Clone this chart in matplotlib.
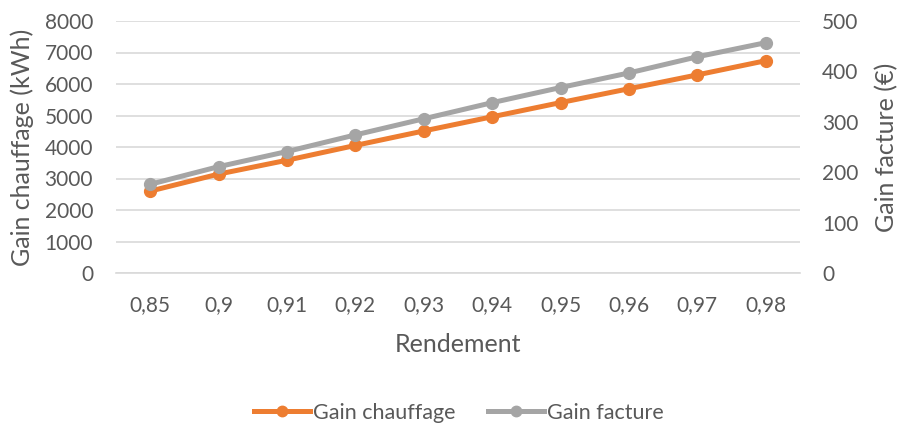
import matplotlib
matplotlib.use("Agg")
import matplotlib.pyplot as plt
from matplotlib.lines import Line2D

plt.rcParams['font.family'] = ['Lato', 'DejaVu Sans']

categories = ["0,85", "0,9", "0,91", "0,92", "0,93", "0,94", "0,95", "0,96", "0,97", "0,98"]
gain_chauffage = [2600, 3140, 3580, 4050, 4510, 4960, 5410, 5850, 6290, 6740]
gain_facture = [176, 211, 241, 274, 306, 338, 368, 397, 429, 457]

orange = "#ED7D31"
gray = "#A5A5A5"
txt = "#595959"
grid = "#D9D9D9"

W, H = 897, 425
fig = plt.figure(figsize=(W/100, H/100), dpi=100)
L, R, T, B = 116, 800, 21, 273
ax = fig.add_axes([L/W, 1 - B/H, (R-L)/W, (B-T)/H])
ax2 = ax.twinx()

x = list(range(len(categories)))
ax.plot(x, gain_chauffage, color=orange, lw=3.6, marker='o', ms=8.5, zorder=3)
ax2.plot(x, gain_facture, color=gray, lw=3.6, marker='o', ms=8.5, zorder=3)

ax.set_xlim(-0.5, len(categories) - 0.5)
ax.set_ylim(0, 8000)
ax.set_yticks(range(0, 8001, 1000))
ax2.set_ylim(0, 500)
ax2.set_yticks(range(0, 501, 100))
ax.set_xticks(x)
ax.set_xticklabels(categories)

ax.grid(axis='y', color=grid, lw=1.2)
ax.set_axisbelow(True)
for a in (ax, ax2):
    for s in a.spines.values():
        s.set_visible(False)
    a.tick_params(length=0, labelsize=15, labelcolor=txt)
ax.spines['bottom'].set_visible(True)
ax.spines['bottom'].set_color(grid)
ax.spines['bottom'].set_linewidth(1.2)
ax.tick_params(axis='x', pad=16)
ax.tick_params(axis='y', pad=16.5)
ax2.tick_params(axis='y', pad=16)

ax.set_xlabel("Rendement", fontsize=18, color=txt)
ax.xaxis.set_label_coords(0.5, (B - 345) / (B - T))
ax.xaxis.label.set_va('center')
ax.set_ylabel("Gain chauffage (kWh)", fontsize=18, color=txt)
ax.yaxis.set_label_coords((22 - L) / (R - L), 0.5)
ax.yaxis.label.set_va('center')
ax2.set_ylabel("Gain facture (€)", fontsize=18, color=txt)
ax2.yaxis.set_label_coords((887 - L) / (R - L), 0.5)
ax2.yaxis.label.set_va('center')

handles = [Line2D([], [], color=orange, lw=3.6, marker='o', ms=7.5),
           Line2D([], [], color=gray, lw=3.6, marker='o', ms=7.5)]
fig.legend(handles, ["Gain chauffage", "Gain facture"], loc='center',
           bbox_to_anchor=(459/W, 1 - 413/H), ncol=2, frameon=False,
           fontsize=15.5, labelcolor=txt, handlelength=2.6, handletextpad=0.15,
           columnspacing=1.5, borderpad=0)

fig.savefig("out.png", dpi=100, facecolor='white')
